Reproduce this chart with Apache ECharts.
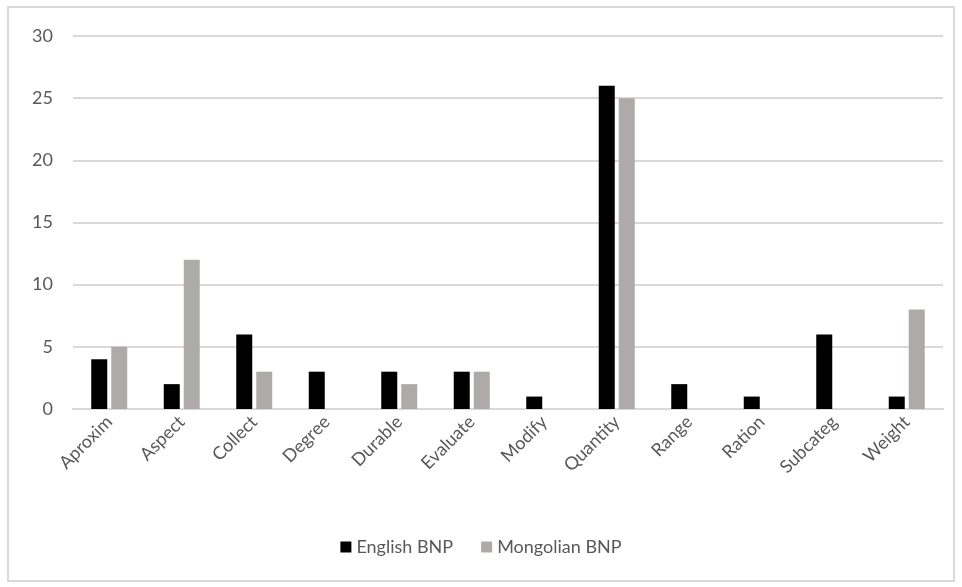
<!DOCTYPE html>
<html>
<head>
<meta charset="utf-8">
<script src="https://cdn.jsdelivr.net/npm/echarts@6/dist/echarts.min.js"></script>
<style>
    html, body { margin: 0; padding: 0; background: #fff; }
    #chart { width: 962px; height: 587px; }
</style>
</head>
<body>
<div id="chart"></div>
<script>
// Chart data
var categories = ['Aproxim', 'Aspect', 'Collect', 'Degree', 'Durable', 'Evaluate',
                  'Modify', 'Quantity', 'Range', 'Ration', 'Subcateg', 'Weight'];
var englishBNP = [4, 2, 6, 3, 3, 3, 1, 26, 2, 1, 6, 1];
var mongolianBNP = [5, 12, 3, 0, 2, 3, 0, 25, 0, 0, 0, 8];
var seriesNames = ['English BNP', 'Mongolian BNP'];

var chart = echarts.init(document.getElementById('chart'));

chart.setOption({
    animation: false,
    textStyle: {
        fontFamily: 'Lato, "Open Sans", sans-serif'
    },
    // Outer frame
    graphic: [{
        type: 'rect',
        shape: { x: 8, y: 7, width: 946, height: 574 },
        style: { fill: 'none', stroke: '#d9d9d9', lineWidth: 2 },
        silent: true
    }],
    legend: {
        data: seriesNames,
        bottom: 26,
        left: 'center',
        itemWidth: 11,
        itemHeight: 11,
        itemGap: 28,
        icon: 'rect',
        selectedMode: false,
        textStyle: { color: '#595959', fontSize: 18 }
    },
    grid: {
        left: 73,
        right: 19,
        top: 36,
        bottom: 178,
        containLabel: false
    },
    xAxis: {
        type: 'category',
        data: categories,
        axisLine: { lineStyle: { color: '#d9d9d9', width: 2 } },
        axisTick: { show: false },
        axisLabel: {
            rotate: 45,
            color: '#595959',
            fontSize: 18,
            margin: 10,
            interval: 0
        }
    },
    yAxis: {
        type: 'value',
        min: 0,
        max: 30,
        interval: 5,
        axisLine: { show: false },
        axisTick: { show: false },
        axisLabel: { color: '#595959', fontSize: 18, margin: 20 },
        splitLine: { lineStyle: { color: '#d9d9d9', width: 2 } }
    },
    series: [
        {
            name: seriesNames[0],
            type: 'bar',
            data: englishBNP,
            barWidth: 16,
            barGap: '25%',
            itemStyle: { color: '#000000' }
        },
        {
            name: seriesNames[1],
            type: 'bar',
            data: mongolianBNP,
            barWidth: 16,
            barGap: '25%',
            itemStyle: { color: '#aeaaaa' }
        }
    ]
});
</script>
</body>
</html>
